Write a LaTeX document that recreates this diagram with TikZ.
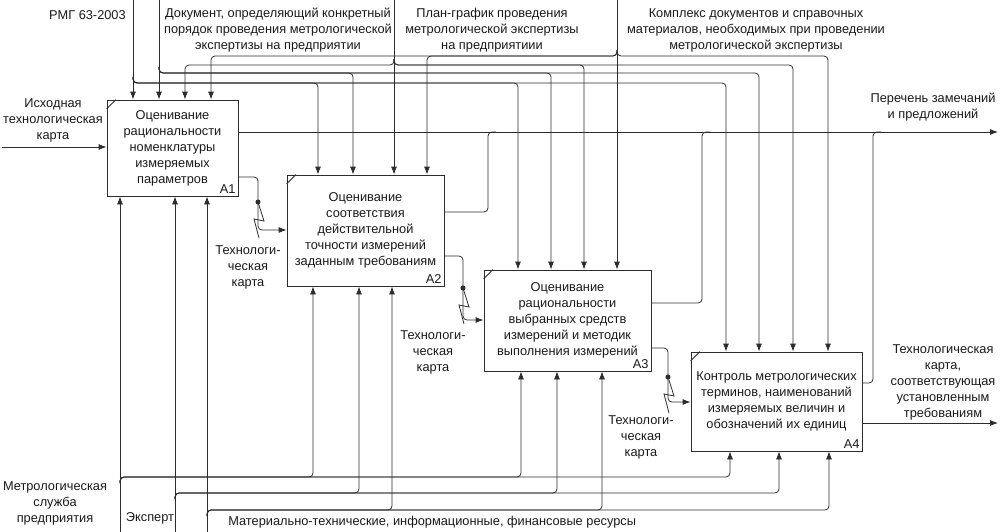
\documentclass[tikz,border=0pt]{standalone}
\usepackage{fontspec}
\setmainfont{Liberation Sans}
\usetikzlibrary{arrows.meta, positioning}
\definecolor{linecolor}{RGB}{45, 45, 45}
\definecolor{textcolor}{RGB}{25, 25, 25}

\begin{document}
\begin{tikzpicture}[
  x = 0.75pt,
  y = -0.75pt,
  func/.style = {
    rectangle,
    draw = linecolor,
    line width = 0.6pt,
    align = center,
    inner sep = 2pt
  },
  tag/.style = {
    anchor = south east,
    inner sep = 2pt
  },
  txt/.style = {
    align = center,
    inner sep = 0pt
  },
  arrow/.style = {
    -{Latex[length=6pt, width=4.5pt]},
    draw = linecolor,
    line width = 0.6pt,
    rounded corners = 3pt
  },
  bus/.style = {
    draw = linecolor,
    line width = 0.6pt,
    rounded corners = 3pt
  },
  every node/.style = {
    font = \fontsize{9.6}{12}\selectfont,
    text = textcolor
  }
]
\useasboundingbox (0,0) rectangle (1000,532);

% Nodes
\node[func, minimum width=98.25pt, minimum height=72pt] (a1) at (172.5,148)
  {Оценивание\\рациональности\\номенклатуры\\измеряемых\\параметров};
\node[func, minimum width=117.75pt, minimum height=83.25pt] (a2) at (365.5,230.5)
  {Оценивание\\соответствия\\действительной\\точности измерений\\заданным требованиям};
\node[func, minimum width=125.25pt, minimum height=75.75pt] (a3) at (567.5,320.5)
  {Оценивание\\рациональности\\выбранных средств\\измерений и методик\\выполнения измерений};
\node[func, minimum width=128.25pt, minimum height=74.25pt] (a4) at (776.5,401.5)
  {Контроль метрологических\\терминов, наименований\\измеряемых величин и\\обозначений их единиц};

\node[tag] (a1tag) at (a1.south east) {A1};
\node[tag] (a2tag) at (a2.south east) {A2};
\node[tag] (a3tag) at (a3.south east) {A3};
\node[tag] (a4tag) at (a4.south east) {A4};

\foreach \b in {a1, a2, a3, a4}
  \draw[linecolor, line width=0.6pt] ([yshift=-7pt]\b.north west) -- ([xshift=7pt]\b.north west);

% Labels
\node[txt, anchor=east] (rmgtxt) at (126,15) {РМГ 63-2003};
\node[txt] (doctxt) at (278,30)
  {Документ, определяющий конкретный\\порядок проведения метрологической\\экспертизы на предприятии};
\node[txt] (plantxt) at (492,30)
  {План-график проведения\\метрологической экспертизы\\на предприятиии};
\node[txt] (kmptxt) at (756,30)
  {Комплекс документов и справочных\\материалов, необходимых при проведении\\метрологической экспертизы};
\node[txt] (inptxt) at (53,120) {Исходная\\технологическая\\карта};
\node[txt] (out1txt) at (933,107) {Перечень замечаний\\и предложений};
\node[txt] (out2txt) at (943,382)
  {Технологическая\\карта,\\соответствующая\\установленным\\требованиям};
\node[txt] (mslutxt) at (55,503) {Метрологическая\\служба\\предприятия};
\node[txt] (exptxt) at (150,518) {Эксперт};
\node[txt, anchor=west] (restxt) at (228,522)
  {Материально-технические, информационные, финансовые ресурсы};
\node[txt] (tk1txt) at (248,267) {Технологи-\\ческая\\карта};
\node[txt] (tk2txt) at (433,352) {Технологи-\\ческая\\карта};
\node[txt] (tk3txt) at (641,437) {Технологи-\\ческая\\карта};

% Controls
\coordinate (rmgtop) at (133,0);
\coordinate (doctop) at (159,0);
\coordinate (plantop) at (394,0);
\coordinate (kmptop) at (617,0);
\coordinate (rmgbus) at (133,83);
\coordinate (docbus) at (159,73);
\coordinate (planbus) at (394,65);
\coordinate (kmpbus) at (617,56);

\draw[arrow] (rmgtop) -- (rmgtop |- a1.north);
\foreach \x/\b in {318/a2, 518/a3, 726/a4}
  \draw[arrow] ([yshift=4.5pt]rmgbus) -- (rmgbus) -- (rmgbus -| \x,0) -- (\x,0 |- \b.north);

\draw[arrow] (doctop) -- (doctop |- a1.north);
\foreach \x/\b in {353/a2, 551/a3, 759/a4}
  \draw[arrow] ([yshift=4.5pt]docbus) -- (docbus) -- (docbus -| \x,0) -- (\x,0 |- \b.north);

\draw[arrow] (plantop) -- (plantop |- a2.north);
\foreach \x/\b in {185/a1, 584/a3, 793/a4}
  \draw[arrow] ([yshift=4.5pt]planbus) -- (planbus) -- (planbus -| \x,0) -- (\x,0 |- \b.north);

\draw[arrow] (kmptop) -- (kmptop |- a3.north);
\foreach \x/\b in {211/a1, 427/a2, 828/a4}
  \draw[arrow] ([yshift=4.5pt]kmpbus) -- (kmpbus) -- (kmpbus -| \x,0) -- (\x,0 |- \b.north);

% Mechanisms
\coordinate (mslubot) at (120,532);
\coordinate (expbot) at (175,532);
\coordinate (resbot) at (207,532);
\coordinate (mslubus) at (120,477);
\coordinate (expbus) at (175,493);
\coordinate (resbus) at (207,510);

\draw[arrow] (mslubot) -- (mslubot |- a1.south);
\foreach \x/\b in {313/a2, 521/a3, 730/a4}
  \draw[arrow] ([yshift=-4.5pt]mslubus) -- (mslubus) -- (mslubus -| \x,0) -- (\x,0 |- \b.south);

\draw[arrow] (expbot) -- (expbot |- a1.south);
\foreach \x/\b in {359/a2, 557/a3, 779/a4}
  \draw[arrow] ([yshift=-4.5pt]expbus) -- (expbus) -- (expbus -| \x,0) -- (\x,0 |- \b.south);

\draw[arrow] (resbot) -- (resbot |- a1.south);
\foreach \x/\b in {392/a2, 602/a3, 829/a4}
  \draw[arrow] ([yshift=-4.5pt]resbus) -- (resbus) -- (resbus -| \x,0) -- (\x,0 |- \b.south);

% Inputs and outputs
\coordinate (inpstart) at (2,147);
\coordinate (out1end) at (998,132);
\coordinate (out2end) at (998,423);
\coordinate (join2) at (488,132);
\coordinate (join3) at (702,132);
\coordinate (join4) at (873,132);

\draw[arrow] (inpstart) -- (inpstart -| a1.west);
\draw[arrow] (a1.east |- out1end) -- (out1end);
\draw[bus] (a2.east |- 0,212) -| (join2) -- ++(8,0);
\draw[bus] (a3.east |- 0,303) -| (join3) -- ++(8,0);
\draw[bus] (a4.east |- 0,383) -| (join4) -- ++(8,0);
\draw[arrow] (a4.east |- out2end) -- (out2end);

% Technological map between blocks
\coordinate (dot1) at (258,202);
\coordinate (dot2) at (463,288);
\coordinate (dot3) at (668,377);

\draw[arrow] (a1.east |- 0,177) -| (dot1) |- (a2.west |- 0,230);
\draw[arrow] (a2.east |- 0,256) -| (dot2) |- (a3.west |- 0,320);
\draw[arrow] (a3.east |- 0,348) -| (dot3) |- (a4.west |- 0,402);

\foreach \d in {dot1, dot2, dot3} {
  \fill[linecolor] (\d) circle (1.9pt);
  \draw[linecolor, line width=0.6pt] (\d) -- ++(6,19) -- ++(-10,-2) -- ++(5,19);
}

\end{tikzpicture}
\end{document}
